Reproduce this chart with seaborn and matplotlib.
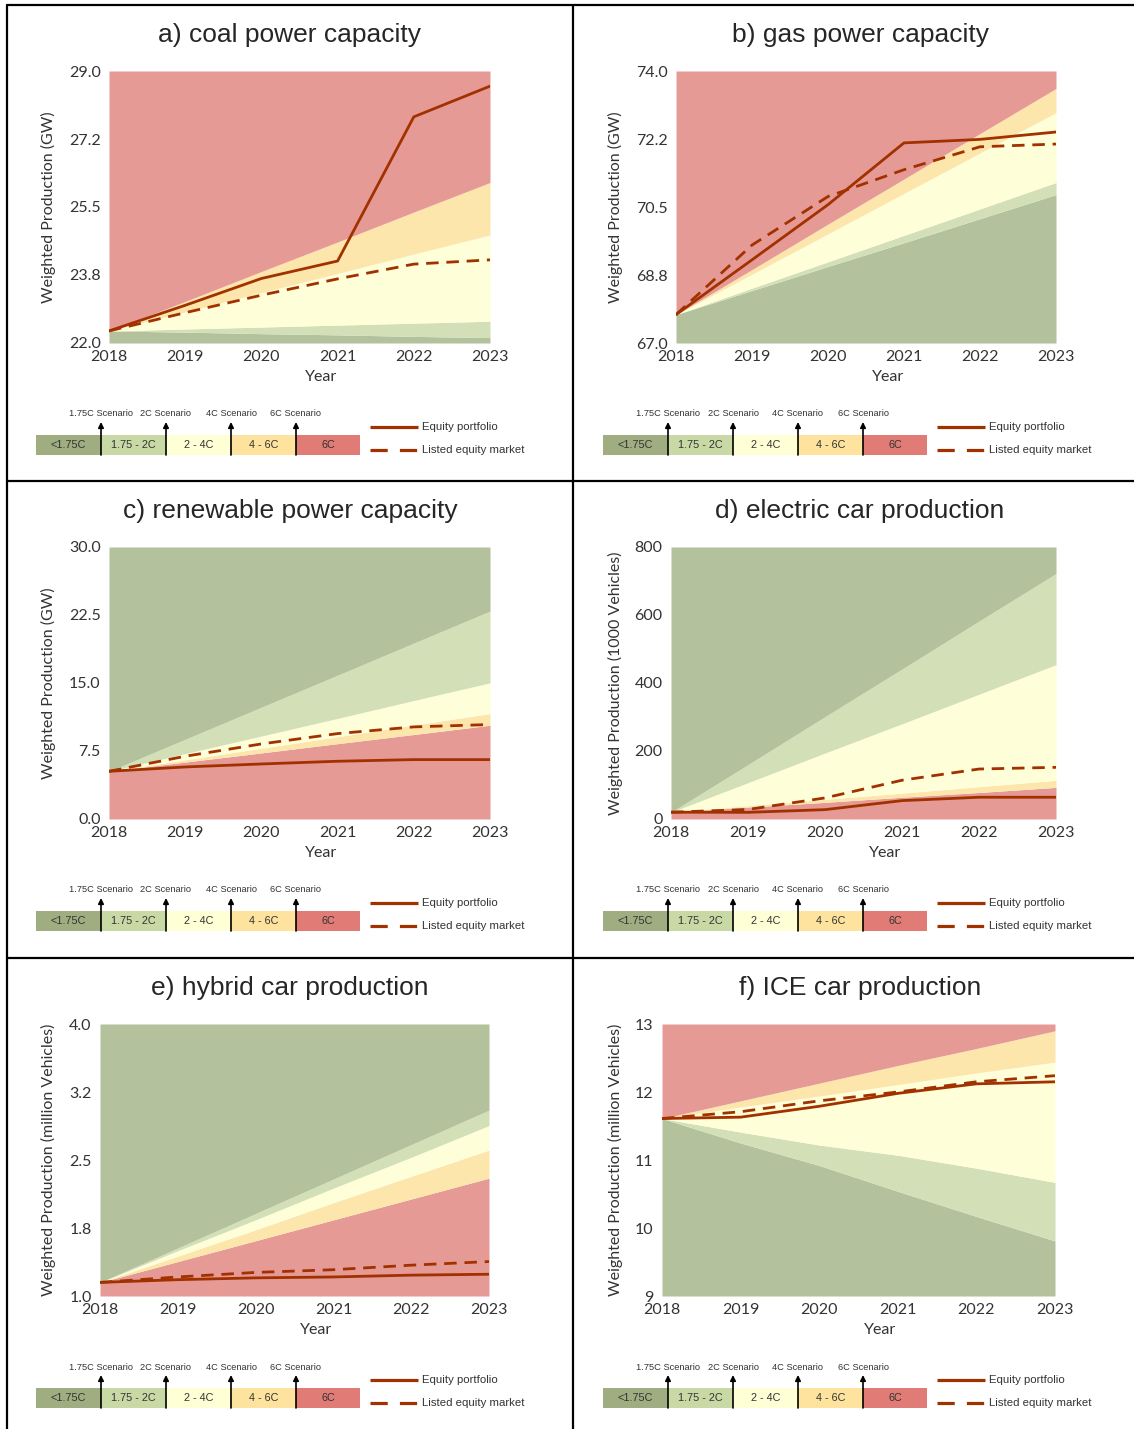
import numpy as np
import pandas as pd
import seaborn as sns
import matplotlib.pyplot as plt
from matplotlib.lines import Line2D
from matplotlib.patches import Rectangle

# data
years = [2018, 2019, 2020, 2021, 2022, 2023]

coal_equity = [22.31, 22.97, 23.66, 24.11, 27.82, 28.61]
coal_market = [22.31, 22.78, 23.23, 23.65, 24.03, 24.14]
coal_s175 = [22.31, 22.28, 22.24, 22.21, 22.17, 22.14]
coal_s2 = [22.31, 22.36, 22.41, 22.46, 22.51, 22.56]
coal_s4 = [22.31, 22.80, 23.30, 23.79, 24.29, 24.78]
coal_s6 = [22.31, 23.07, 23.84, 24.60, 25.37, 26.13]

gas_equity = [67.73, 69.14, 70.56, 72.15, 72.24, 72.43]
gas_market = [67.73, 69.52, 70.77, 71.46, 72.05, 72.12]
gas_s175 = [67.73, 68.35, 68.97, 69.58, 70.20, 70.82]
gas_s2 = [67.73, 68.41, 69.09, 69.77, 70.45, 71.13]
gas_s4 = [67.73, 68.77, 69.81, 70.85, 71.89, 72.93]
gas_s6 = [67.73, 68.89, 70.06, 71.22, 72.39, 73.55]

renew_equity = [5.26, 5.74, 6.07, 6.37, 6.55, 6.55]
renew_market = [5.26, 6.92, 8.28, 9.42, 10.16, 10.42]
renew_s175 = [5.26, 8.79, 12.33, 15.86, 19.40, 22.93]
renew_s2 = [5.26, 7.21, 9.15, 11.10, 13.07, 15.02]
renew_s4 = [5.26, 6.53, 7.81, 9.08, 10.36, 11.63]
renew_s6 = [5.26, 6.28, 7.29, 8.31, 9.32, 10.34]

ev_equity = [20, 19.6, 27.5, 54, 64, 64]
ev_market = [20, 28, 62, 114, 147, 152]
ev_s175 = [20, 160, 301, 441, 582, 722]
ev_s2 = [20, 107, 194, 280, 367, 454]
ev_s4 = [20, 39, 58, 76, 95, 114]
ev_s6 = [20, 35, 49, 64, 78, 93]

hybrid_equity = [1.15, 1.18, 1.20, 1.21, 1.23, 1.24]
hybrid_market = [1.15, 1.21, 1.26, 1.29, 1.34, 1.38]
hybrid_s175 = [1.15, 1.53, 1.91, 2.29, 2.67, 3.05]
hybrid_s2 = [1.15, 1.50, 1.84, 2.19, 2.53, 2.88]
hybrid_s4 = [1.15, 1.44, 1.73, 2.03, 2.32, 2.61]
hybrid_s6 = [1.15, 1.38, 1.61, 1.84, 2.07, 2.30]

ice_equity = [11.61, 11.63, 11.79, 11.98, 12.12, 12.15]
ice_market = [11.61, 11.71, 11.87, 12.00, 12.15, 12.24]
ice_s175 = [11.61, 11.25, 10.92, 10.54, 10.17, 9.81]
ice_s2 = [11.61, 11.41, 11.22, 11.07, 10.88, 10.67]
ice_s4 = [11.61, 11.78, 11.94, 12.11, 12.28, 12.44]
ice_s6 = [11.61, 11.87, 12.13, 12.39, 12.64, 12.90]

titles = ['a) coal power capacity', 'b) gas power capacity',
          'c) renewable power capacity', 'd) electric car production',
          'e) hybrid car production', 'f) ICE car production']
ylabels = ['Weighted Production (GW)', 'Weighted Production (GW)',
           'Weighted Production (GW)', 'Weighted Production (1000 Vehicles)',
           'Weighted Production (million Vehicles)',
           'Weighted Production (million Vehicles)']
ylims = [(22, 29), (67, 74), (0, 30), (0, 800), (1, 4), (9, 13)]
low_is_good = [True, True, False, False, False, True]

band_labels = ['<1.75C', '1.75 - 2C', '2 - 4C', '4 - 6C', '6C']
scen_labels = ['1.75C Scenario', '2C Scenario', '4C Scenario', '6C Scenario']

W, H = 1134, 1429
RED, ORANGE, YELLOW, LGREEN, DGREEN = '#e69a96', '#fce6ac', '#fefed9', '#d3dfb6', '#b4c19d'
BAR_COLS = ['#9fad80', '#c9d9a5', '#ffffd5', '#fde39d', '#e07c75']
LINE = '#a23100'
TXT = '#333333'

sns.set_style('white')
plt.rcParams['font.family'] = ['Lato', 'DejaVu Sans']

fig = plt.figure(figsize=(W / 100, H / 100), dpi=100)


def rect(l, t, r, b):
    return [l / W, 1 - b / H, (r - l) / W, (b - t) / H]


panels = [
    (coal_equity, coal_market, coal_s175, coal_s2, coal_s4, coal_s6),
    (gas_equity, gas_market, gas_s175, gas_s2, gas_s4, gas_s6),
    (renew_equity, renew_market, renew_s175, renew_s2, renew_s4, renew_s6),
    (ev_equity, ev_market, ev_s175, ev_s2, ev_s4, ev_s6),
    (hybrid_equity, hybrid_market, hybrid_s175, hybrid_s2, hybrid_s4, hybrid_s6),
    (ice_equity, ice_market, ice_s175, ice_s2, ice_s4, ice_s6),
]

# axes placement in pixels
ax_x = [(109, 490), (676, 1056), (109, 490), (671, 1056), (100, 489), (662, 1055)]
row_dy = [0, 476, 953]
col_dx = [0, 567]

for i, (eq, mk, s175, s2, s4, s6) in enumerate(panels):
    row, col = i // 2, i % 2
    dy, dx = row_dy[row], col_dx[col]
    l, r = ax_x[i]
    t, b = 71 + dy, 343 + dy
    ax = fig.add_axes(rect(l, t, r, b))
    lo, hi = ylims[i]
    yr = np.array(years)
    bot = np.full(len(years), lo)
    top = np.full(len(years), hi)
    if low_is_good[i]:
        edges = [bot, s175, s2, s4, s6, top]
        cols = [DGREEN, LGREEN, YELLOW, ORANGE, RED]
    else:
        edges = [bot, s6, s4, s2, s175, top]
        cols = [RED, ORANGE, YELLOW, LGREEN, DGREEN]
    for k in range(5):
        ax.fill_between(yr, edges[k], edges[k + 1], color=cols[k], lw=0)

    df = pd.DataFrame({'Year': years, 'equity': eq, 'market': mk})
    sns.lineplot(data=df, x='Year', y='equity', ax=ax, color=LINE, lw=2, legend=False)
    sns.lineplot(data=df, x='Year', y='market', ax=ax, color=LINE, lw=2, legend=False)
    ax.lines[-1].set_dashes([4.5, 2.8])

    ax.set_xlim(2018, 2023)
    ax.set_ylim(lo, hi)
    ax.set_xticks(years)
    ax.set_yticks(np.linspace(lo, hi, 5))
    if i in (3, 5):
        ax.set_yticklabels(['%d' % v for v in np.linspace(lo, hi, 5)])
    else:
        ax.set_yticklabels(['%.1f' % v for v in np.linspace(lo, hi, 5)])
    sns.despine(ax=ax, left=True, bottom=True)
    ax.tick_params(length=0, labelsize=11.5, colors=TXT)
    ax.tick_params(axis='x', pad=5)
    ax.tick_params(axis='y', pad=6)

    wpx = r - l
    ax.set_xlabel('Year', fontsize=11.5, color=TXT)
    ax.xaxis.label.set_va('center')
    ax.xaxis.set_label_coords(((l + r) / 2 + 22 - l) / wpx, -34 / 272)
    ax.set_ylabel(ylabels[i], fontsize=11.5, color=TXT)
    ax.yaxis.label.set_va('center')
    ax.yaxis.set_label_coords((48 + dx - l) / wpx, 0.5)

    fig.text((290 + dx * 1.0 + (3 if col else 0)) / W, 1 - (35 + dy) / H, titles[i],
             ha='center', va='center', fontsize=19, family='Liberation Sans')

    # scenario colour key and line legend under each panel
    lg = fig.add_axes(rect(dx, 395 + dy, dx + 567, 470 + dy))
    lg.set_xlim(0, 567)
    lg.set_ylim(75, 0)
    lg.axis('off')
    xs = [36, 101, 166, 231, 296, 360]
    for k in range(5):
        lg.add_patch(Rectangle((xs[k], 40), xs[k + 1] - xs[k], 20,
                               facecolor=BAR_COLS[k], lw=0))
        lg.text((xs[k] + xs[k + 1]) / 2, 50, band_labels[k], ha='center',
                va='center', fontsize=7.8, color=TXT, family='Liberation Sans')
    for k in range(4):
        x = xs[k + 1]
        lg.annotate('', xy=(x, 27), xytext=(x, 60),
                    arrowprops=dict(arrowstyle='-|>', color='black', lw=1.2,
                                    mutation_scale=8, shrinkA=0, shrinkB=0))
        lg.text(x, 19, scen_labels[k], ha='center', va='center', fontsize=6.7,
                color=TXT, family='Liberation Sans')
    lg.plot([370, 418], [32, 32], color=LINE, lw=2.3, solid_capstyle='butt')
    lg.plot([370, 418], [55, 55], color=LINE, lw=2.3, dashes=[5.4, 3.8],
            dash_capstyle='butt')
    lg.text(422, 32, 'Equity portfolio', va='center', fontsize=8.2, color=TXT,
            family='Liberation Sans')
    lg.text(422, 55, 'Listed equity market', va='center', fontsize=8.2, color=TXT,
            family='Liberation Sans')

# table borders
for (x0, y0, x1, y1) in [(7, 5, 1134, 5), (7, 481, 1134, 481), (7, 958, 1134, 958),
                         (7, 5, 7, 1429), (573, 5, 573, 1429)]:
    fig.add_artist(Line2D([x0 / W, x1 / W], [1 - y0 / H, 1 - y1 / H],
                          color='black', lw=1.6))

fig.savefig('out.png', dpi=100)
